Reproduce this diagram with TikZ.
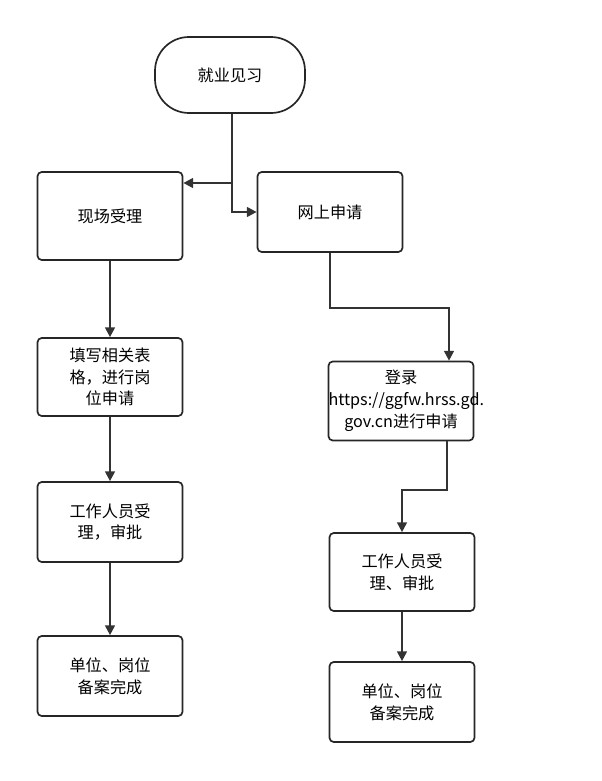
\documentclass[tikz,border=0pt]{standalone}
\usepackage{fontspec}
\setmainfont{Noto Sans CJK SC}
\usetikzlibrary{arrows.meta, positioning}
\tikzset{
    block/.style={rectangle, draw=black!85, line width=1.2pt, rounded corners=3pt, fill=white, align=center, minimum width=145*0.025cm, minimum height=80*0.025cm, font=\fontsize{11.5}{15.5}\selectfont},
    term/.style={rectangle, draw=black!85, line width=1.2pt, rounded corners=0.85cm, align=center, minimum width=150*0.025cm, minimum height=76*0.025cm, font=\fontsize{11.5}{15.5}\selectfont},
    arrow/.style={draw=black!80, line width=1.4pt, -{Triangle[length=7pt,width=7pt]}}
}
\begin{document}
\begin{tikzpicture}[x=0.025cm, y=-0.025cm]
        \useasboundingbox (0,0) rectangle (601,781);
        % Start
        \node (start) [term] at (230,75) {就业见习};
        % Offline branch
        \node (onsite) [block, minimum height=88*0.025cm] at (110,216) {现场受理};
        \node (form) [block, minimum height=78*0.025cm] at (110,377) {填写相关表\\格，进行岗\\位申请};
        \node (L_review) [block] at (110,522) {工作人员受\\理，审批};
        \node (L_done) [block] at (110,676) {单位、岗位\\备案完成};
        % Online branch
        \node (online) [block] at (330,212) {网上申请};
        \node (login) [block, minimum height=79*0.025cm, inner xsep=0pt, text width=145*0.025cm] at (401,401) {登录\\https://ggfw.hrss.gd.\\gov.cn进行申请};
        \node (R_review) [block, minimum height=78*0.025cm] at (402,572) {工作人员受\\理、审批};
        \node (R_done) [block] at (402,702) {单位、岗位\\备案完成};

        \coordinate (split) at (232,183);
        \draw[arrow] (start.south -| split) -- (split) -- (onsite.east |- split);
        \draw[arrow] (split) |- (online.west);
        \draw[arrow] (onsite) -- (form);
        \draw[arrow] (form) -- (L_review);
        \draw[arrow] (L_review) -- (L_done);
        \draw[arrow] (online.south) -- ++(0,55) -| (login.north -| 449,0);
        \draw[arrow] (login.south -| 447,0) -- ++(0,49) -| (R_review.north);
        \draw[arrow] (R_review) -- (R_done);
\end{tikzpicture}
\end{document}
